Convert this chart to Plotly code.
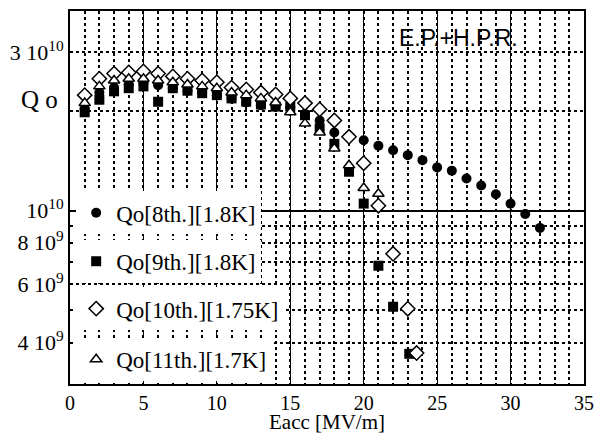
import plotly.graph_objects as go
import math

# ---- data ----
x8 = list(range(1, 33))
q8 = [2.03e10, 2.27e10, 2.35e10, 2.40e10, 2.42e10, 2.39e10, 2.34e10, 2.30e10, 2.27e10, 2.23e10,
      2.18e10, 2.12e10, 2.08e10, 2.06e10, 2.05e10, 1.96e10, 1.87e10, 1.72e10, 1.665e10, 1.63e10,
      1.57e10, 1.52e10, 1.47e10, 1.42e10, 1.35e10, 1.32e10, 1.25e10, 1.19e10, 1.12e10, 1.05e10,
      0.977e10, 0.887e10]

x9 = [1, 2, 3, 4, 5, 6, 7, 8, 9, 10, 11, 12, 13, 14, 15, 16, 17, 18, 19, 20, 21, 22, 23.1]
q9 = [1.98e10, 2.16e10, 2.29e10, 2.34e10, 2.37e10, 2.13e10, 2.34e10, 2.30e10, 2.26e10, 2.23e10,
      2.18e10, 2.13e10, 2.09e10, 2.06e10, 2.06e10, 1.94e10, 1.77e10, 1.59e10, 1.31e10, 1.05e10,
      0.682e10, 0.513e10, 0.370e10]

x10 = [1, 2, 3, 4, 5, 6, 7, 8, 9, 10, 11, 12, 13, 14, 15, 16, 17, 18, 19, 20, 21, 22, 23, 23.6]
q10 = [2.23e10, 2.50e10, 2.59e10, 2.61e10, 2.63e10, 2.59e10, 2.54e10, 2.50e10, 2.47e10, 2.44e10,
       2.35e10, 2.32e10, 2.27e10, 2.24e10, 2.18e10, 2.11e10, 2.02e10, 1.87e10, 1.67e10, 1.39e10,
       1.035e10, 0.741e10, 0.506e10, 0.372e10]

x11 = list(range(1, 22))
q11 = [2.11e10, 2.37e10, 2.47e10, 2.50e10, 2.50e10, 2.47e10, 2.44e10, 2.40e10, 2.37e10, 2.34e10,
       2.27e10, 2.23e10, 2.18e10, 2.12e10, 1.98e10, 1.83e10, 1.72e10, 1.54e10, 1.37e10, 1.17e10,
       1.125e10]

names = ["Qo[8th.][1.8K]", "Qo[9th.][1.8K]", "Qo[10th.][1.75K]", "Qo[11th.][1.7K]"]

y_tickvals = [4e9, 6e9, 8e9, 1e10, 3e10]
y_ticktext = ["4 10<sup>9</sup>", "6 10<sup>9</sup>", "8 10<sup>9</sup>", "10<sup>10</sup>", "3 10<sup>10</sup>"]
y_minorvals = [3e9, 5e9, 7e9, 9e9, 2e10]
x_tickvals = [0, 5, 10, 15, 20, 25, 30, 35]

SERIF = "Liberation Serif"
yr = [math.log10(3e9), math.log10(4e10)]

fig = go.Figure()

fig.add_trace(go.Scatter(x=x9, y=q9, mode="markers", name=names[1], legend="legend2",
                         marker=dict(symbol="square", size=10, color="black")))
fig.add_trace(go.Scatter(x=x8, y=q8, mode="markers", name=names[0], legend="legend",
                         marker=dict(symbol="circle", size=10, color="black")))
fig.add_trace(go.Scatter(x=x10, y=q10, mode="markers", name=names[2], legend="legend3",
                         marker=dict(symbol="diamond", size=11, color="white",
                                     line=dict(color="black", width=1.5))))
fig.add_trace(go.Scatter(x=x11, y=q11, mode="markers", name=names[3], legend="legend4",
                         marker=dict(symbol="triangle-up", size=10, color="white",
                                     line=dict(color="black", width=1.5))))
# carrier for the solid 10^10 line axis
fig.add_trace(go.Scatter(x=[None], y=[None], yaxis="y2", showlegend=False, hoverinfo="skip"))

legend_common = dict(font=dict(family=SERIF, size=23, color="black"), bgcolor="white",
                     borderwidth=0, xanchor="left", yanchor="middle", x=0.012,
                     itemwidth=30)

fig.update_layout(
    width=595, height=436,
    margin=dict(l=70, r=11, t=11, b=52),
    paper_bgcolor="white", plot_bgcolor="white",
    font=dict(family=SERIF, size=21, color="black"),
    xaxis=dict(range=[0, 35], tickvals=x_tickvals, showline=True, mirror=True,
               linecolor="black", linewidth=2, showgrid=True, gridcolor="black", gridwidth=1,
               zeroline=False, ticks="", tickfont=dict(family=SERIF, size=20),
               automargin=False,
               minor=dict(dtick=1, showgrid=True, gridcolor="black", griddash="dot", gridwidth=1.5)),
    yaxis=dict(type="log", range=yr, tickvals=y_tickvals, ticktext=y_ticktext,
               showline=True, mirror=True, linecolor="black", linewidth=2,
               showgrid=True, gridcolor="black", griddash="dot", gridwidth=1.5,
               zeroline=False, ticks="", tickfont=dict(family=SERIF, size=22), automargin=False,
               minor=dict(tickvals=y_minorvals, showgrid=True, gridcolor="black",
                          griddash="dot", gridwidth=1.5)),
    yaxis2=dict(type="log", range=yr, overlaying="y", tickvals=[1e10], showticklabels=False,
                showgrid=True, gridcolor="black", gridwidth=1.5, showline=False, zeroline=False),
    legend=dict(legend_common, y=0.459),
    legend2=dict(legend_common, y=0.329),
    legend3=dict(legend_common, y=0.202),
    legend4=dict(legend_common, y=0.066),
    annotations=[
        dict(text="Q o", xref="paper", yref="paper", x=-0.02, y=0.762, xanchor="right",
             yanchor="middle", showarrow=False, font=dict(family=SERIF, size=25)),
        dict(text="E.P.+H.P.R.", xref="paper", yref="paper", x=0.755, y=0.928,
             xanchor="center", yanchor="middle", showarrow=False,
             font=dict(family="Liberation Sans", size=23)),
        dict(text="Eacc [MV/m]", xref="paper", yref="paper", x=0.5, y=-0.101,
             xanchor="center", yanchor="middle", showarrow=False,
             font=dict(family=SERIF, size=21)),
    ],
)

fig.write_html("out.html")
